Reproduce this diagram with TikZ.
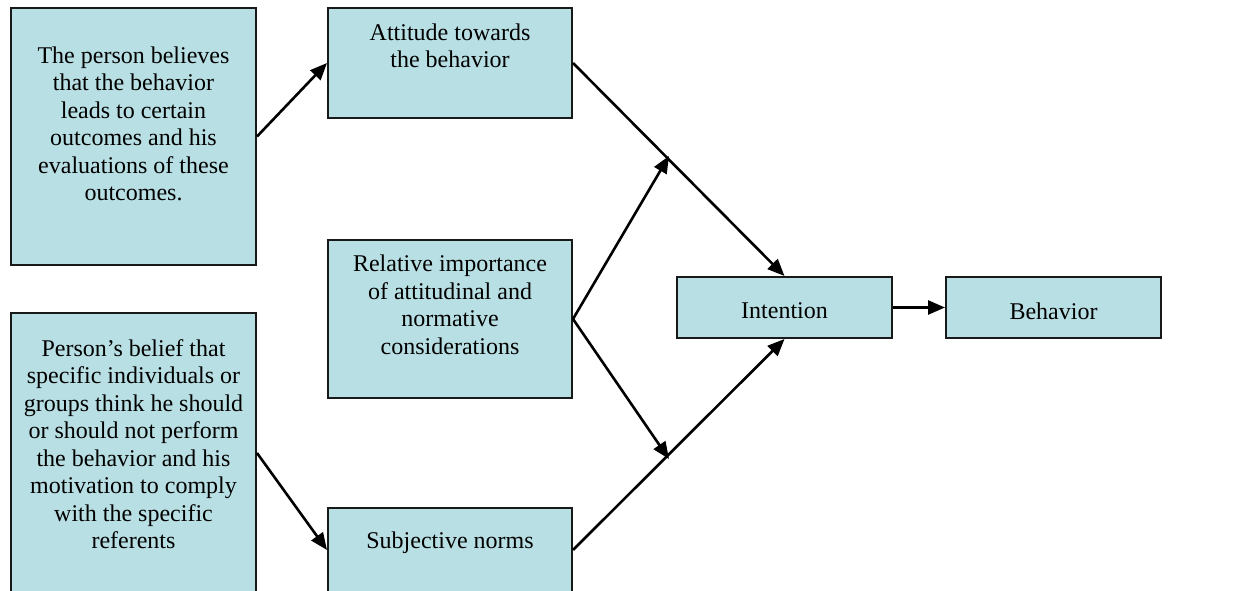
\documentclass[tikz,border=0pt]{standalone}
\usepackage{fontspec}
\setmainfont{Liberation Serif}
\usetikzlibrary{arrows.meta}
\definecolor{boxfill}{RGB}{184,223,227}
\definecolor{boxline}{RGB}{25,25,25}
\tikzset{
  box/.style={draw=boxline, fill=boxfill, line width=2pt, rectangle, inner sep=0pt},
  txt/.style={align=center, inner sep=0pt, font=\fontsize{24}{27.5}\selectfont},
  conn/.style={line width=2.6pt, -{Triangle[length=17pt,width=14pt]}}
}
\begin{document}
\begin{tikzpicture}[x=1pt,y=-1pt]
\useasboundingbox (0,0) rectangle (1233,591);
% boxes
\node[box, minimum width=245pt, minimum height=257pt] (A) at (133.5,136.5) {};
\node[box, minimum width=245pt, minimum height=280pt] (B) at (133.5,453) {};
\node[box, minimum width=244pt, minimum height=110pt] (Att) at (450,63) {};
\node[box, minimum width=244pt, minimum height=158pt] (Rel) at (450,319) {};
\node[box, minimum width=244pt, minimum height=84pt] (Subj) at (450,550) {};
\node[box, minimum width=215pt, minimum height=61pt] (Int) at (784.5,307.5) {};
\node[box, minimum width=215pt, minimum height=61pt] (Beh) at (1053.5,307.5) {};
% texts
\node[txt] (tA) at (133.5,124) {The person believes\\that the behavior\\leads to certain\\outcomes and his\\evaluations of these\\outcomes.};
\node[txt] (tB) at (133.5,444) {Person’s belief that\\specific individuals or\\groups think he should\\or should not perform\\the behavior and his\\motivation to comply\\with the specific\\referents};
\node[txt] (tAtt) at (450,46) {Attitude towards\\the behavior};
\node[txt] (tRel) at (450,305) {Relative importance\\of attitudinal and\\normative\\considerations};
\node[txt] (tSubj) at (450,543) {Subjective norms};
\node[txt] (tInt) at (784.5,311) {Intention};
\node[txt] (tBeh) at (1053.5,311) {Behavior};
% junctions
\coordinate (j1) at (669,156);
\coordinate (j2) at (669,459);
% connectors
\draw[conn] (A.east) -- (Att.west);
\draw[conn] (B.east) -- (Subj.west);
\draw[conn] (Att.east) -- (Int.north);
\draw[conn] (Subj.east) -- (Int.south);
\draw[conn] (Rel.east) -- (j1);
\draw[conn] (Rel.east) -- (j2);
\draw[conn] (Int.east) -- (Beh.west);
\end{tikzpicture}
\end{document}
